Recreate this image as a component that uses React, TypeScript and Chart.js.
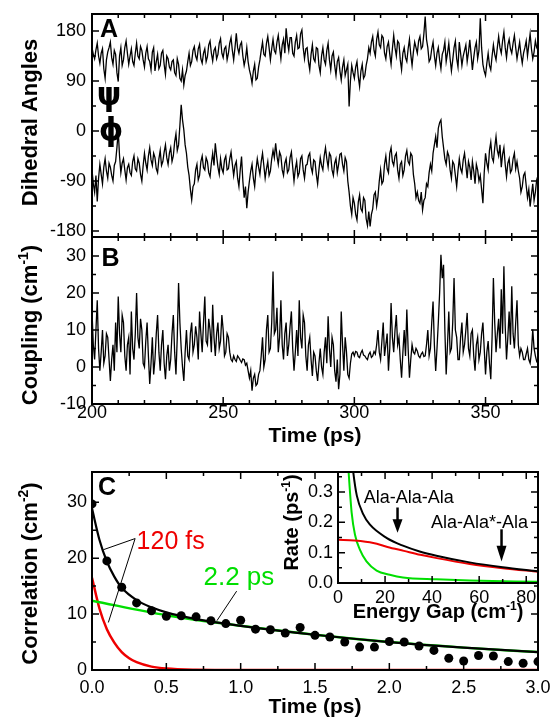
import React, { useEffect, useRef } from 'react';
import { Chart, registerables } from 'chart.js';

Chart.register(...registerables);

const SANS = '"Liberation Sans", Arial, Helvetica, sans-serif';
const RED = 'rgb(238,0,0)';
const GREEN = 'rgb(0,222,0)';

// ---------- Panels A & B: trajectory, read every 0.5 ps from 200 ps ----------
const trajStartPs = 200;
const trajStepPs = 0.5;
const psiDeg = [
  150, 138, 130, 146, 158, 135, 122, 140, 148, 112,
  95, 128, 142, 150, 160, 132, 120, 145, 138, 105,
  89, 135, 150, 118, 128, 150, 162, 140, 120, 135,
  148, 125, 118, 140, 158, 135, 130, 152, 145, 128,
  115, 140, 152, 130, 125, 110, 142, 150, 108, 125,
  138, 112, 118, 140, 145, 120, 102, 135, 130, 115,
  110, 125, 128, 105, 100, 130, 120, 95, 90, 110,
  83, 100, 108, 125, 140, 118, 125, 145, 152, 135,
  128, 148, 156, 130, 122, 140, 148, 125, 134, 155,
  162, 140, 126, 145, 150, 130, 138, 158, 166, 140,
  132, 148, 152, 128, 140, 158, 168, 145, 128, 150,
  176, 150, 140, 155, 160, 135, 118, 130, 150, 125,
  110, 100, 86, 108, 120, 92, 95, 115, 128, 145,
  160, 138, 135, 158, 170, 150, 128, 148, 165, 145,
  140, 160, 172, 150, 130, 155, 165, 140, 185, 160,
  145, 168, 168, 140, 135, 160, 172, 148, 150, 175,
  182, 150, 130, 148, 150, 125, 110, 138, 155, 130,
  125, 150, 148, 118, 105, 135, 150, 128, 120, 145,
  158, 128, 110, 135, 142, 118, 100, 125, 132, 108,
  92, 115, 128, 100, 110, 120, 44, 90, 118, 105,
  95, 115, 125, 98, 80, 108, 120, 95, 100, 118,
  130, 150, 140, 160, 170, 145, 135, 165, 178, 155,
  150, 172, 168, 140, 130, 152, 160, 138, 120, 148,
  172, 150, 135, 162, 158, 128, 110, 140, 150, 132,
  125, 148, 165, 138, 118, 142, 160, 150, 140, 162,
  170, 148, 152, 175, 206, 165, 150, 125, 130, 148,
  160, 135, 118, 140, 150, 128, 112, 138, 145, 160,
  125, 140, 158, 130, 108, 128, 150, 162, 130, 115,
  160, 140, 118, 135, 145, 155, 125, 142, 164, 138,
  110, 132, 150, 160, 130, 145, 203, 150, 120, 108,
  100, 122, 140, 118, 110, 135, 155, 138, 128, 150,
  170, 150, 140, 162, 178, 150, 132, 155, 165, 148,
  140, 158, 172, 150, 130, 145, 160, 138, 122, 140,
  150, 162, 135, 155, 175, 148, 130, 142, 162, 150,
  145,
];
const phiDeg = [
  -70, -95, -110, -80, -127, -85, -60, -78, -95, -65,
  -50, -72, -85, -58, -65, -80, -90, -62, -55, -30,
  0, -45, -75, -58, -50, -70, -88, -66, -60, -75,
  -80, -55, -45, -68, -72, -50, -58, -78, -90, -62,
  -40, -58, -70, -45, -30, -52, -62, -40, -48, -68,
  -75, -50, -35, -62, -55, -38, -25, -48, -60, -40,
  -30, -55, -45, -20, -5, -35, -25, 10, 47, 20,
  2, -25, -40, -65, -80, -105, -124, -100, -95, -70,
  -60, -88, -80, -55, -45, -66, -70, -48, -55, -75,
  -82, -58, -40, -62, -22, -45, -65, -78, -50, -68,
  -75, -52, -45, -70, -68, -50, -38, -60, -80, -62,
  -55, -85, -100, -70, -46, -90, -120, -100, -139, -110,
  -90, -72, -60, -85, -100, -70, -50, -65, -78, -55,
  -40, -62, -85, -68, -55, -80, -72, -50, -35, -48,
  -22, -45, -60, -38, -45, -70, -80, -58, -50, -75,
  -70, -48, -38, -65, -90, -68, -55, -82, -75, -50,
  -45, -70, -85, -62, -60, -45, -40, -65, -75, -52,
  -55, -78, -95, -70, -48, -62, -70, -45, -30, -50,
  -65, -40, -45, -70, -80, -58, -50, -75, -60, -42,
  -40, -60, -72, -48, -55, -90, -110, -135, -150, -120,
  -130, -150, -160, -128, -115, -140, -145, -120, -125, -158,
  -170, -145, -172, -150, -140, -115, -110, -135, -118, -90,
  -70, -95, -90, -60, -45, -68, -75, -40, -30, -55,
  -62, -45, -40, -70, -85, -60, -55, -80, -70, -45,
  -35, -55, -60, -40, -45, -78, -95, -120, -110, -125,
  -130, -110, -142, -125, -120, -95, -100, -75, -60, -72,
  -40, -25, -10, -30, 5, 15, 20, -10, -30, -50,
  -60, -38, -45, -70, -85, -55, -60, -80, -100, -72,
  -50, -68, -75, -52, -40, -62, -85, -55, -65, -88,
  -55, -72, -95, -60, -70, -90, -80, -105, -130, -75,
  -40, -58, -70, -35, -20, -48, -55, -30, -10, -35,
  -45, -25, -65, -42, -30, -60, -82, -58, -50, -75,
  -70, -50, -40, -68, -55, -72, -85, -110, -100, -80,
  -75, -98, -120, -105, -136, -115, -95, -125, -110, -88,
  -80,
];
const couplingCm1 = [
  15, 6, 2, 10, 18, 5, -1, 4, 10, 1,
  3, 9, 8, 2, -3.8, 2, 6, -1, 12, 4,
  19, 9, 4, 14, 12, 3, -1, 6, 8, -2,
  15, 5, 2, 9, 20, 8, 5, 13, 10, 1,
  0, 7, 12, 3, -4.6, 1, 8, -2, 2, 9,
  14, 4, -1, 6, 10, 1, -3.3, 3, 6, -1,
  2, 9, 14, 4, -2, 8, 22.7, 12, 5, 0,
  -3.8, 4, 10, 3, 2, 9, 12, 4, 6, 11,
  8, 2, 15, 9, 4, 12, 19, 7, 6, 13,
  10, 4, 16.8, 8, 3, 9, 12, 5, 7, 14,
  10, 3, 4, 9, 8, 4, 2, 1.5, 3, 2,
  1.5, 3, 2.5, 1.8, 1.2, 2.2, 2, 0.5, 1, -1,
  -3, -1, -6.4, -3, -2, -5, -4.5, -2, -1, 3,
  8, 0, 2, 10, 14, 4, 5, 12, 25.8, 9,
  10, 16, 4, 8, 18, 6, 2, 9, 12, 3,
  6, 11, 15, 5, -1, 4, 10, 3, 18, 8,
  5, 14, 12, 3, -1, 6, 8, 2, -2.4, 4,
  3, -1, -3.8, 1, 5, 0, -2, 4, 8, 1,
  13.7, 5, 0, 8, 6, -1, -4, 2, -6, -2,
  15, 6, -1, 8, 4, -2, -3, 1, 3.5, 4,
  3, 4.2, 4, 2.8, 2.5, 3.8, 4.5, 3.2, 3, 2.4,
  2, 3.4, 4, 2.6, 3, 4.2, 3.5, 6, 10, 4,
  2, 7, 12, 3, 6, 9, -1, 5, 17.3, 8,
  4, 10, 14, 6, 8, 2, -2.9, 4, 10, 3,
  15.5, 5, -2.9, 2, 6, 4, 3.5, 5, 4.3, 3,
  2.5, 3.5, 4, 2.8, 3, 6, 10, 3, 5, 12,
  17.7, 6, -1.1, 5, 12, 20, 30.3, 24, 27.6, 10,
  -2, 6, 15, 4, 5, 12, 24, 10, 8, 2,
  2, 8, 12, 4, 6, 10, 14.6, 5, 3, 9,
  10, 3, -1, 6, 8, 2, 4, 9, 12, 5,
  -2, 4, 7, 1, -3.3, 8, 24, 12, 4, 9,
  13, 5, 21, 9, 27.2, 11, 2, 8, 15, 6,
  21.8, 9, 5, 12, 18, 6, 3, 5, 4, 2,
  2, 3.5, 5, 2, 1, 4, 10.1, 5, 3, 1.5,
  2,
];

const trajTimeTicks = [200, 250, 300, 350];
const trajTimeTickLabels = ['200', '250', '300', '350'];
const trajTimeMinorTicks = [210, 220, 230, 240, 260, 270, 280, 290, 310, 320, 330, 340, 360, 370];
const angleTicks = [-180, -90, 0, 90, 180];
const angleTickLabels = ['-180', '-90', '0', '90', '180'];
const angleMinorTicks = [-135, -45, 45, 135];
const couplingTicks = [-10, 0, 10, 20, 30];
const couplingTickLabels = ['-10', '0', '10', '20', '30'];
const couplingMinorTicks = [-5, 5, 15, 25];

// ---------- Panel C: correlation function ----------
const corrTimePs = [0, 0.1, 0.2, 0.3, 0.4, 0.5, 0.6, 0.7, 0.8, 0.9, 1.0, 1.1, 1.2, 1.3, 1.4, 1.5,
  1.6, 1.7, 1.8, 1.9, 2.0, 2.1, 2.2, 2.3, 2.4, 2.5, 2.6, 2.7, 2.8, 2.9, 3.0];
const corrValues = [29.7, 19.5, 14.8, 12.0, 10.6, 9.6, 9.7, 9.5, 8.8, 8.3, 8.9, 7.3, 7.2, 6.6, 7.6, 6.2,
  5.9, 5.0, 4.1, 4.1, 5.1, 5.0, 4.3, 3.5, 2.1, 1.6, 2.6, 2.5, 1.5, 1.2, 1.5];
const fastFitTimePs = [0, 0.05, 0.1, 0.15, 0.2, 0.25, 0.3, 0.4, 0.5, 0.7, 1.0, 3.0];
const fastFitValues = [16.5, 11.0, 7.3, 4.9, 3.2, 2.1, 1.4, 0.6, 0.25, 0.05, 0, 0];
const slowFitTimePs = [0, 0.5, 1.0, 1.5, 2.0, 2.5, 3.0];
const slowFitValues = [12.4, 9.8, 7.9, 6.3, 5.0, 4.0, 3.2];
const totalFitTimePs = [0, 0.05, 0.1, 0.15, 0.2, 0.3, 0.4, 0.5, 0.7, 1.0, 1.5, 2.0, 2.5, 3.0];
const totalFitValues = [28.9, 23.3, 19.4, 16.7, 14.7, 12.5, 11.2, 10.3, 9.1, 7.9, 6.3, 5.0, 4.0, 3.2];

const corrTimeTicks = [0, 0.5, 1, 1.5, 2, 2.5, 3];
const corrTimeTickLabels = ['0.0', '0.5', '1.0', '1.5', '2.0', '2.5', '3.0'];
const corrTimeMinorTicks = [0.25, 0.75, 1.25, 1.75, 2.25, 2.75];
const corrTicks = [0, 10, 20, 30];
const corrTickLabels = ['0', '10', '20', '30'];
const corrMinorTicks = [5, 15, 25];

// ---------- Inset: rate vs energy gap ----------
const gapTotalCm = [5.8, 6.5, 8, 10.7, 13.5, 20.6, 27.6, 34.7, 41.8, 55.9, 70, 85];
const rateTotal = [0.42, 0.365, 0.288, 0.227, 0.193, 0.149, 0.123, 0.104, 0.09, 0.068, 0.052, 0.039];
const gapRedCm = [0, 7, 15, 21, 28, 35, 42, 56, 70, 85];
const rateRed = [0.143, 0.14, 0.132, 0.119, 0.106, 0.093, 0.082, 0.063, 0.049, 0.037];
const gapGreenCm = [4.2, 5.8, 7.2, 9.3, 12.1, 16.4, 22, 27.6, 41.8, 56, 85];
const rateGreen = [0.4, 0.232, 0.16, 0.11, 0.071, 0.041, 0.027, 0.018, 0.012, 0.008, 0.004];

const gapTicks = [0, 20, 40, 60, 80];
const gapTickLabels = ['0', '20', '40', '60', '80'];
const gapMinorTicks = [10, 30, 50, 70];
const rateTicks = [0, 0.1, 0.2, 0.3];
const rateTickLabels = ['0.0', '0.1', '0.2', '0.3'];
const rateMinorTicks = [0.05, 0.15, 0.25, 0.35];

// ---------- helpers ----------
type Seg = { t: string; sup?: boolean };
type TextItem = {
  segs: Seg[]; x: number; y: number; size: number; bold?: boolean; color?: string;
  align?: 'left' | 'center'; rotate?: boolean; family?: string; data?: boolean;
};
type Decor = {
  xMajor: number[]; xMinor: number[]; yMajor: number[]; yMinor: number[];
  whiteBg?: boolean;
  texts?: TextItem[];
  lines?: { pts: [number, number][]; color: string; width: number }[];
  arrows?: { x: number; from: number; head: number; tip: number }[];
};

const seg = (t: string): Seg[] => [{ t }];

function drawText(ctx: CanvasRenderingContext2D, chart: any, t: TextItem) {
  let x = t.x;
  let y = t.y;
  if (t.data) {
    x = chart.scales.x.getPixelForValue(t.x);
    y = chart.scales.y.getPixelForValue(t.y);
  }
  const fam = t.family ?? SANS;
  const w = t.bold ? 'bold ' : '';
  const main = `${w}${t.size}px ${fam}`;
  const sup = `${w}${Math.round(t.size * 0.62)}px ${fam}`;
  ctx.save();
  ctx.translate(x, y);
  if (t.rotate) ctx.rotate(-Math.PI / 2);
  ctx.fillStyle = t.color ?? '#000';
  ctx.textBaseline = 'alphabetic';
  ctx.textAlign = 'left';
  let total = 0;
  const widths = t.segs.map((s) => {
    ctx.font = s.sup ? sup : main;
    const m = ctx.measureText(s.t).width;
    total += m;
    return m;
  });
  let cx = t.align === 'center' ? -total / 2 : 0;
  t.segs.forEach((s, i) => {
    ctx.font = s.sup ? sup : main;
    ctx.fillText(s.t, cx, s.sup ? -t.size * 0.4 : 0);
    cx += widths[i];
  });
  ctx.restore();
}

function makeDecor(d: Decor) {
  return {
    id: 'decor',
    beforeDraw(chart: any) {
      if (!d.whiteBg) return;
      const { ctx, chartArea: a } = chart;
      ctx.save();
      ctx.fillStyle = '#fff';
      ctx.fillRect(a.left, a.top, a.right - a.left, a.bottom - a.top);
      ctx.restore();
    },
    afterDraw(chart: any) {
      const { ctx, chartArea: a, scales } = chart;
      const xs = scales.x;
      const ys = scales.y;
      ctx.save();
      ctx.strokeStyle = '#000';
      ctx.lineWidth = 1.5;
      const tickX = (vals: number[], len: number) => {
        vals.forEach((v) => {
          const p = xs.getPixelForValue(v);
          if (p < a.left - 0.5 || p > a.right + 0.5) return;
          ctx.beginPath();
          ctx.moveTo(p, a.bottom);
          ctx.lineTo(p, a.bottom - len);
          ctx.moveTo(p, a.top);
          ctx.lineTo(p, a.top + len);
          ctx.stroke();
        });
      };
      const tickY = (vals: number[], len: number) => {
        vals.forEach((v) => {
          const p = ys.getPixelForValue(v);
          if (p < a.top - 0.5 || p > a.bottom + 0.5) return;
          ctx.beginPath();
          ctx.moveTo(a.left, p);
          ctx.lineTo(a.left + len, p);
          ctx.moveTo(a.right, p);
          ctx.lineTo(a.right - len, p);
          ctx.stroke();
        });
      };
      tickX(d.xMajor, 7);
      tickX(d.xMinor, 4);
      tickY(d.yMajor, 7);
      tickY(d.yMinor, 4);
      ctx.lineWidth = 2;
      ctx.strokeRect(a.left, a.top, a.right - a.left, a.bottom - a.top);

      (d.lines ?? []).forEach((l) => {
        ctx.strokeStyle = l.color;
        ctx.lineWidth = l.width;
        ctx.beginPath();
        l.pts.forEach(([vx, vy], i) => {
          const px = xs.getPixelForValue(vx);
          const py = ys.getPixelForValue(vy);
          if (i) ctx.lineTo(px, py);
          else ctx.moveTo(px, py);
        });
        ctx.stroke();
      });

      (d.arrows ?? []).forEach((ar) => {
        const px = xs.getPixelForValue(ar.x);
        const y0 = ys.getPixelForValue(ar.from);
        const yh = ys.getPixelForValue(ar.head);
        const yt = ys.getPixelForValue(ar.tip);
        ctx.strokeStyle = '#000';
        ctx.fillStyle = '#000';
        ctx.lineWidth = 2.5;
        ctx.beginPath();
        ctx.moveTo(px, y0);
        ctx.lineTo(px, yh + 1);
        ctx.stroke();
        ctx.beginPath();
        ctx.moveTo(px - 5, yh);
        ctx.lineTo(px + 5, yh);
        ctx.lineTo(px, yt);
        ctx.closePath();
        ctx.fill();
      });

      (d.texts ?? []).forEach((t) => drawText(ctx, chart, t));
      ctx.restore();
    },
  };
}

function axisX(min: number, max: number, ticks: number[], labels: string[], height: number, pad: number, display = true) {
  return {
    type: 'linear', position: 'bottom', min, max, display,
    grid: { display: false, drawTicks: false },
    border: { display: false },
    ticks: {
      color: '#000', font: { family: SANS, size: 18 }, padding: pad,
      autoSkip: false, maxRotation: 0, minRotation: 0,
      callback: (_v: any, i: number) => labels[i] ?? '',
    },
    afterBuildTicks: (s: any) => { s.ticks = ticks.map((v) => ({ value: v })); },
    afterFit: (s: any) => {
      s.height = height;
      s.paddingLeft = 0; s.paddingRight = 0; s.paddingTop = 0; s.paddingBottom = 0;
    },
  };
}

function axisY(min: number, max: number, ticks: number[], labels: string[], width: number, pad: number) {
  return {
    type: 'linear', position: 'left', min, max,
    grid: { display: false, drawTicks: false },
    border: { display: false },
    ticks: {
      color: '#000', font: { family: SANS, size: 18 }, padding: pad, autoSkip: false,
      callback: (_v: any, i: number) => labels[i] ?? '',
    },
    afterBuildTicks: (s: any) => { s.ticks = ticks.map((v) => ({ value: v })); },
    afterFit: (s: any) => {
      s.width = width;
      s.paddingLeft = 0; s.paddingRight = 0; s.paddingTop = 0; s.paddingBottom = 0;
    },
  };
}

const pairs = (xs: number[], ys: number[]) => ys.map((y, i) => ({ x: xs[i], y }));
const trajPairs = (ys: number[]) => ys.map((y, i) => ({ x: trajStartPs + i * trajStepPs, y }));

function baseOptions(padding: any, scales: any) {
  return {
    responsive: false,
    animation: false,
    events: [],
    layout: { padding },
    plugins: { legend: { display: false }, tooltip: { enabled: false } },
    scales,
  };
}

const traceStyle = { borderColor: '#000', borderWidth: 1.3, pointRadius: 0, tension: 0 };
const fitStyle = { pointRadius: 0, cubicInterpolationMode: 'monotone' };

function configA(): any {
  return {
    type: 'line',
    data: {
      datasets: [
        { data: trajPairs(psiDeg), ...traceStyle },
        { data: trajPairs(phiDeg), ...traceStyle },
      ],
    },
    options: baseOptions(
      { left: 0, top: 14, right: 17, bottom: 8 },
      {
        x: axisX(200, 370, trajTimeTicks, trajTimeTickLabels, 0, 0, false),
        y: axisY(-190.8, 210.6, angleTicks, angleTickLabels, 92, 6),
      },
    ),
    plugins: [makeDecor({
      xMajor: trajTimeTicks, xMinor: trajTimeMinorTicks, yMajor: angleTicks, yMinor: angleMinorTicks,
      texts: [
        { segs: seg('Dihedral Angles'), x: 37, y: 122.5, size: 22, bold: true, align: 'center', rotate: true },
        { segs: seg('A'), x: 100, y: 36.5, size: 25, bold: true },
        { segs: seg('ψ'), x: 109, y: 105, size: 31, bold: true, align: 'center', family: '"DejaVu Sans"' },
        { segs: seg('ϕ'), x: 111, y: 140, size: 31, bold: true, align: 'center', family: '"DejaVu Sans"' },
      ],
    })],
  };
}

function configB(): any {
  return {
    type: 'line',
    data: { datasets: [{ data: trajPairs(couplingCm1), ...traceStyle }] },
    options: baseOptions(
      { left: 0, top: 7, right: 17, bottom: 0 },
      {
        x: axisX(200, 370, trajTimeTicks, trajTimeTickLabels, 46, -2),
        y: axisY(-10, 35.1, couplingTicks, couplingTickLabels, 92, 6),
      },
    ),
    plugins: [makeDecor({
      xMajor: trajTimeTicks, xMinor: trajTimeMinorTicks, yMajor: couplingTicks, yMinor: couplingMinorTicks,
      texts: [
        { segs: [{ t: 'Coupling (cm' }, { t: '-1', sup: true }, { t: ')' }], x: 37, y: 95, size: 22, bold: true, align: 'center', rotate: true },
        { segs: seg('B'), x: 101.5, y: 35.5, size: 25, bold: true },
        { segs: seg('Time (ps)'), x: 315, y: 212, size: 21, bold: true, align: 'center' },
      ],
    })],
  };
}

function configC(): any {
  return {
    type: 'line',
    data: {
      datasets: [
        { data: pairs(corrTimePs, corrValues), showLine: false, pointRadius: 4.5, pointBackgroundColor: '#000', pointBorderColor: '#000', pointBorderWidth: 0 },
        { data: pairs(totalFitTimePs, totalFitValues), borderColor: '#000', borderWidth: 2.2, ...fitStyle },
        { data: pairs(slowFitTimePs, slowFitValues), borderColor: GREEN, borderWidth: 2.5, ...fitStyle },
        { data: pairs(fastFitTimePs, fastFitValues), borderColor: RED, borderWidth: 2.5, ...fitStyle },
      ],
    },
    options: baseOptions(
      { left: 0, top: 22, right: 17, bottom: 0 },
      {
        x: axisX(0, 3, corrTimeTicks, corrTimeTickLabels, 54, 7),
        y: axisY(0, 35.4, corrTicks, corrTickLabels, 92, 5),
      },
    ),
    plugins: [makeDecor({
      xMajor: corrTimeTicks, xMinor: corrTimeMinorTicks, yMajor: corrTicks, yMinor: corrMinorTicks,
      lines: [
        { pts: [[0.076, 21.5], [0.29, 23.5], [0.11, 8.5]], color: '#000', width: 1 },
        { pts: [[0.84, 8.8], [0.973, 14.1]], color: '#000', width: 1 },
      ],
      texts: [
        { segs: [{ t: 'Correlation (cm' }, { t: '-2', sup: true }, { t: ')' }], x: 37, y: 123.5, size: 22, bold: true, align: 'center', rotate: true },
        { segs: seg('C'), x: 98, y: 45, size: 25, bold: true },
        { segs: seg('Time (ps)'), x: 315, y: 263, size: 21, bold: true, align: 'center' },
        { segs: seg('120 fs'), x: 0.3, y: 21.7, size: 25, color: RED, data: true },
        { segs: seg('2.2 ps'), x: 0.75, y: 15.2, size: 26, color: GREEN, data: true },
      ],
    })],
  };
}

function configInset(): any {
  return {
    type: 'line',
    data: {
      datasets: [
        { data: pairs(gapTotalCm, rateTotal), borderColor: '#000', borderWidth: 2, ...fitStyle },
        { data: pairs(gapRedCm, rateRed), borderColor: RED, borderWidth: 2, ...fitStyle },
        { data: pairs(gapGreenCm, rateGreen), borderColor: GREEN, borderWidth: 2, ...fitStyle },
      ],
    },
    options: baseOptions(
      { left: 0, top: 12, right: 17, bottom: 0 },
      {
        x: axisX(0, 85, gapTicks, gapTickLabels, 42, 4),
        y: axisY(0, 0.366, rateTicks, rateTickLabels, 58, 5),
      },
    ),
    plugins: [makeDecor({
      xMajor: gapTicks, xMinor: gapMinorTicks, yMajor: rateTicks, yMinor: rateMinorTicks,
      whiteBg: true,
      arrows: [
        { x: 25.3, from: 0.249, head: 0.21, tip: 0.166 },
        { x: 69.5, from: 0.177, head: 0.123, tip: 0.071 },
      ],
      texts: [
        { segs: [{ t: 'Rate (ps' }, { t: '-1', sup: true }, { t: ')' }], x: 18, y: 62.5, size: 20, bold: true, align: 'center', rotate: true },
        { segs: [{ t: 'Energy Gap (cm' }, { t: '-1', sup: true }, { t: ')' }], x: 158, y: 158, size: 20, bold: true, align: 'center' },
        { segs: seg('Ala-Ala-Ala'), x: 30.1, y: 0.263, size: 18, align: 'center', data: true },
        { segs: seg('Ala-Ala*-Ala'), x: 60.1, y: 0.181, size: 18, align: 'center', data: true },
      ],
    })],
  };
}

function ChartCanvas(props: { left: number; top: number; width: number; height: number; make: () => any }) {
  const ref = useRef<HTMLCanvasElement>(null);
  useEffect(() => {
    const chart = new Chart(ref.current as HTMLCanvasElement, props.make());
    return () => chart.destroy();
  }, []);
  return (
    <canvas
      ref={ref}
      width={props.width}
      height={props.height}
      style={{ position: 'absolute', left: props.left, top: props.top, width: props.width, height: props.height }}
    />
  );
}

export default function App() {
  return (
    <div style={{ position: 'absolute', left: 0, top: 0, width: 555, height: 724, background: '#fff', overflow: 'hidden' }}>
      <ChartCanvas left={0} top={0} width={555} height={245} make={configA} />
      <ChartCanvas left={0} top={230} width={555} height={220} make={configB} />
      <ChartCanvas left={0} top={450} width={555} height={274} make={configC} />
      <ChartCanvas left={280} top={460} width={275} height={165} make={configInset} />
    </div>
  );
}
